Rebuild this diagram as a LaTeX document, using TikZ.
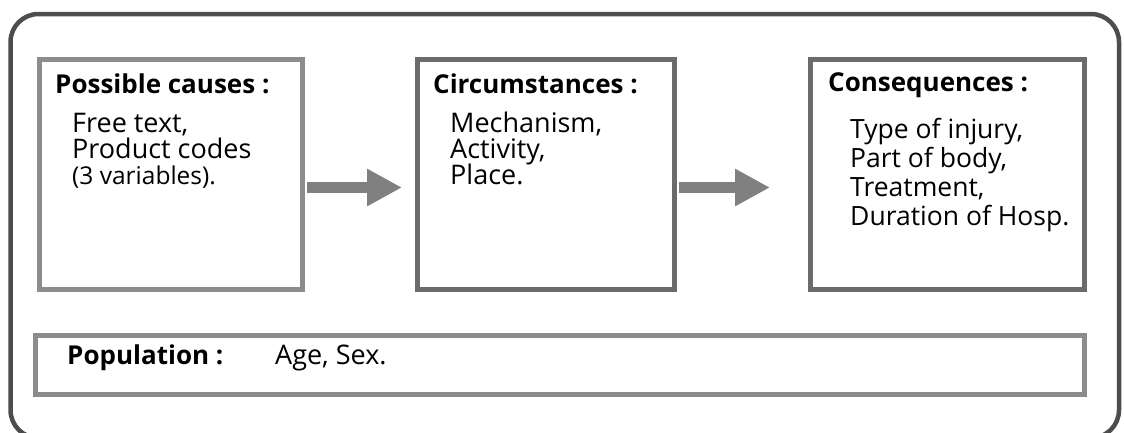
\documentclass[tikz,border=0pt]{standalone}
\usepackage{fontspec}
\setmainfont{Open Sans}
\usetikzlibrary{arrows.meta}
\definecolor{outerc}{HTML}{4D4D4D}
\definecolor{arrowc}{HTML}{808080}
\tikzset{
  outerbox/.style={draw=outerc, line width=4.5pt, rounded corners=28pt},
  lightbox/.style={draw=black!45, line width=5pt, fill=white, inner sep=0pt},
  darkbox/.style={draw=black!58, line width=5pt, fill=white, inner sep=0pt},
  title/.style={anchor=base west, inner sep=0pt, font=\fontsize{26}{26}\selectfont\bfseries},
  body/.style={anchor=base west, inner sep=0pt, font=\fontsize{27}{27}\selectfont},
  bodysmall/.style={anchor=base west, inner sep=0pt, font=\fontsize{24.5}{24.5}\selectfont},
  bodybig/.style={anchor=base west, inner sep=0pt, font=\fontsize{26.5}{26.5}\selectfont},
  bigarrow/.style={draw=arrowc, line width=11pt, -{Triangle[length=35pt,width=35pt]}, shorten <=2pt}
}
\begin{document}
\begin{tikzpicture}[x=1pt,y=-1pt]
\useasboundingbox (0,0) rectangle (1124,432);
\begin{scope}
\clip (0,0) rectangle (1124,432);
\draw[outerbox] (10.5,14) rectangle (1119,438);
\end{scope}
% boxes
\node[lightbox, minimum width=263pt, minimum height=230pt] (b1) at (171,174.5) {};
\node[darkbox, minimum width=257pt, minimum height=230pt] (b2) at (546,174.5) {};
\node[darkbox, minimum width=274pt, minimum height=230pt] (b3) at (947.5,174.5) {};
\node[lightbox, minimum width=1049pt, minimum height=59pt] (pop) at (560,365) {};
% arrows
\coordinate (a1s) at (b1.east |- 0,187.5);
\coordinate (a1e) at (402,187.5);
\coordinate (a2s) at (b2.east |- 0,187.5);
\coordinate (a2e) at (770,187.5);
\draw[bigarrow] (a1s) -- (a1e);
\draw[bigarrow] (a2s) -- (a2e);
% texts box 1
\node[title] (t1) at (55,93) {Possible causes :};
\node[body] (l11) at (72,132) {Free text,};
\node[body] (l12) at (72,158) {Product codes};
\node[bodysmall] (l13) at (72,184) {(3 variables).};
% box 2
\node[title] (t2) at (433,93) {Circumstances :};
\node[body] (l21) at (450,132) {Mechanism,};
\node[body] (l22) at (450,158) {Activity,};
\node[body] (l23) at (450,184) {Place.};
% box 3
\node[title] (t3) at (828,91) {Consequences :};
\node[bodybig] (l31) at (850,138) {Type of injury,};
\node[bodybig] (l32) at (850,167) {Part of body,};
\node[bodybig] (l33) at (850,196) {Treatment,};
\node[bodybig] (l34) at (850,225) {Duration of Hosp.};
% population
\node[title] (tp) at (67,364) {Population :};
\node[body] (lp) at (275,364) {Age, Sex.};
\end{tikzpicture}
\end{document}
